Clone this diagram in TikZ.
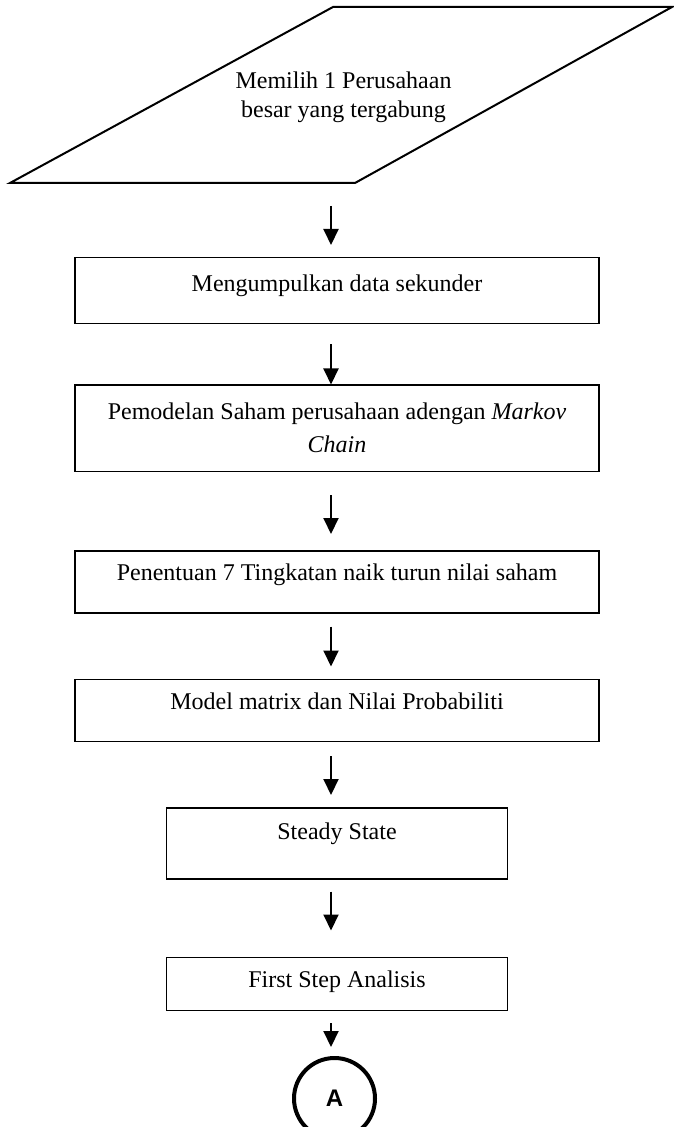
\documentclass[tikz,border=0pt]{standalone}
\usepackage{fontspec}
\setmainfont{Liberation Serif}
\setsansfont{Liberation Sans}
\usetikzlibrary{positioning,arrows.meta}

\begin{document}
\begin{tikzpicture}[node distance=30pt, >={Triangle[length=8pt,width=7.5pt]}, line width=1pt,
  kotak/.style = {draw, line width=0.75pt, minimum width=262pt, inner ysep=0pt, font=\fontsize{12}{14}\selectfont},
  kotakkecil/.style = {kotak, minimum width=170.5pt}]
\useasboundingbox (0,0) rectangle (336.5pt,-563.5pt);
\node[minimum height=85.5pt, align=center, font=\fontsize{12}{14.5}\selectfont] (pilih) at (171.75pt,-48.75pt) {Memilih 1 Perusahaan\\besar yang tergabung};
\draw (5pt,-91.5pt) -- (177.5pt,-91.5pt) -- (336pt,-3.5pt) -- (166.5pt,-3.5pt) -- cycle;
\node[kotak, text height=17pt, text depth=16pt] (kumpul) [below=36.5pt of pilih, xshift=-3.25pt] {Mengumpulkan data sekunder};
\node[kotak, minimum height=43pt, align=center, font=\fontsize{12}{16.5}\selectfont] (model) [below=of kumpul] {Pemodelan Saham perusahaan adengan \textit{Markov}\\\textit{Chain}};
\node[kotak, text height=15pt, text depth=16pt] (tingkat) [below=39pt of model] {Penentuan 7 Tingkatan naik turun nilai saham};
\node[kotak, text height=15pt, text depth=16pt] (matriks) [below=32.5pt of tingkat] {Model matrix dan Nilai Probabiliti};
\node[kotakkecil, text height=16pt, text depth=19.5pt] (steady) [below=32.5pt of matriks] {Steady State};
\node[kotakkecil, text height=15pt, text depth=11.5pt] (analisis) [below=38.5pt of steady] {First Step Analisis};
\node[draw, circle, line width=2pt, minimum size=40.5pt, inner sep=0pt, font=\sffamily\bfseries\fontsize{12}{14}\selectfont] (A) [below=22.5pt of analisis, xshift=-1.25pt] {A};
\draw[->, shorten <=11pt, shorten >=6pt] ([xshift=-6.25pt]pilih.south) -- ([xshift=-3pt]kumpul.north);
\draw[->, shorten <=10pt] ([xshift=-3pt]kumpul.south) -- ([xshift=-3pt]model.north);
\draw[->, shorten <=11.5pt, shorten >=8pt] ([xshift=-3pt]model.south) -- ([xshift=-3pt]tingkat.north);
\draw[->, shorten <=6.5pt, shorten >=6pt] ([xshift=-3pt]tingkat.south) -- ([xshift=-3pt]matriks.north);
\draw[->, shorten <=7pt, shorten >=6pt] ([xshift=-3pt]matriks.south) -- ([xshift=-3pt]steady.north);
\draw[->, shorten <=6pt, shorten >=13pt] ([xshift=-3pt]steady.south) -- ([xshift=-3pt]analisis.north);
\draw[->, shorten <=6pt, shorten >=4.5pt] ([xshift=-3pt]analisis.south) -- ([xshift=-1.75pt]A.north);
\end{tikzpicture}
\end{document}
